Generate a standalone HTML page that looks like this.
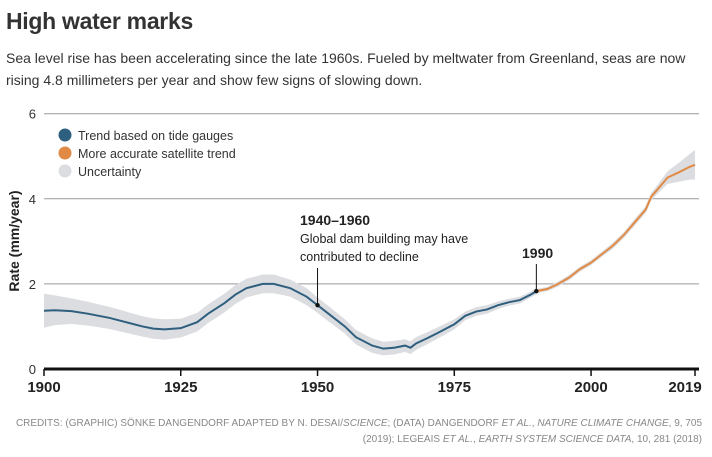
<!DOCTYPE html>
<html><head><meta charset="utf-8"><style>
body{margin:0;width:712px;height:457px;background:#fff;font-family:"Liberation Sans",sans-serif;overflow:hidden}
#title{position:absolute;left:6px;top:8px;font-size:23px;font-weight:bold;color:#333;letter-spacing:-0.3px}
#sub{position:absolute;left:6px;top:47px;width:700px;font-size:14px;line-height:22px;color:#333}
#cred{position:absolute;right:10px;top:416px;width:700px;text-align:right;font-size:10px;line-height:16px;color:#888}
svg{position:absolute;left:0;top:0}
</style></head><body>
<div id="title">High water marks</div>
<div id="sub">Sea level rise has been accelerating since the late 1960s. Fueled by meltwater from Greenland, seas are now rising 4.8 millimeters per year and show few signs of slowing down.</div>
<div id="cred">CREDITS: (GRAPHIC) SÖNKE DANGENDORF ADAPTED BY N. DESAI/<i>SCIENCE</i>; (DATA) DANGENDORF <i>ET AL.</i>, <i>NATURE CLIMATE CHANGE</i>, 9, 705<br>(2019); LEGEAIS <i>ET AL.</i>, <i>EARTH SYSTEM SCIENCE DATA</i>, 10, 281 (2018)</div>
<svg id="chart" width="712" height="457"></svg>
<script>
const gaugeYears=[1900,1902,1905,1908,1910,1912,1915,1918,1920,1922,1925,1928,1930,1933,1935,1937,1940,1942,1945,1948,1950,1952,1955,1957,1960,1962,1964,1966,1967,1968,1970,1972,1975,1977,1979,1981,1983,1985,1987,1989,1990];
const gaugeRates=[1.37,1.38,1.36,1.3,1.25,1.2,1.1,1.0,0.95,0.93,0.96,1.1,1.3,1.55,1.75,1.9,2.0,2.0,1.9,1.7,1.5,1.3,1.0,0.75,0.55,0.48,0.5,0.55,0.5,0.6,0.72,0.85,1.05,1.25,1.35,1.4,1.5,1.57,1.62,1.75,1.83];
const gaugeUnc=[0.4,0.35,0.3,0.28,0.27,0.26,0.25,0.24,0.24,0.24,0.22,0.22,0.22,0.22,0.22,0.22,0.22,0.22,0.2,0.2,0.18,0.18,0.17,0.17,0.17,0.16,0.16,0.15,0.15,0.15,0.14,0.13,0.12,0.1,0.1,0.1,0.09,0.08,0.08,0.07,0.07];
const satYears=[1990,1992,1994,1996,1998,2000,2002,2004,2006,2008,2010,2011,2012,2014,2016,2018,2019];
const satRates=[1.83,1.88,2.0,2.15,2.35,2.5,2.7,2.9,3.15,3.45,3.75,4.05,4.2,4.5,4.62,4.75,4.8];
const satUnc=[0.05,0.05,0.06,0.06,0.06,0.06,0.06,0.07,0.07,0.08,0.08,0.09,0.1,0.15,0.22,0.3,0.35];
const yTicks=[0,2,4,6];
const xTicks=[1900,1925,1950,1975,2000,2019];

const svg=document.getElementById('chart');
const NS='http://www.w3.org/2000/svg';
const x=yr=>44+(yr-1900)*(695-44)/119;
const y=v=>369-v*42.55;
function mk(tag,attrs,txt){const e=document.createElementNS(NS,tag);for(const k in attrs)e.setAttribute(k,attrs[k]);if(txt!==undefined)e.textContent=txt;svg.appendChild(e);return e;}

yTicks.forEach(t=>{
  if(t>0){const g=mk('line',{x1:44,x2:699,y1:y(t),y2:y(t),stroke:'#999','stroke-width':1});
  
  }
  const l=mk('text',{x:36,y:y(t)+5,'text-anchor':'end','font-size':13,fill:'#333','font-family':'Liberation Sans, sans-serif'},t);
  
  
});
function band(ys,rs,us,name){
  let d='';ys.forEach((yr,i)=>{d+=(i?'L':'M')+x(yr)+','+y(rs[i]+us[i]);});
  for(let i=ys.length-1;i>=0;i--)d+='L'+x(ys[i])+','+y(rs[i]-us[i]);
  const p=mk('path',{d:d+'Z',fill:'#dcdde0'});
  
  
}
function line(ys,rs,col,name){
  const d=ys.map((yr,i)=>(i?'L':'M')+x(yr)+','+y(rs[i])).join('');
  const p=mk('path',{d:d,fill:'none',stroke:col,'stroke-width':2});
  
  
}
band(gaugeYears,gaugeRates,gaugeUnc,'uncertainty-band-gauges');
band(satYears,satRates,satUnc,'uncertainty-band-satellite');
line(gaugeYears,gaugeRates,'#2f5f7f','tide-gauge-line');
line(satYears,satRates,'#e08a45','satellite-line');

const ax=mk('line',{x1:44,x2:699,y1:369,y2:369,stroke:'#111','stroke-width':3});


xTicks.forEach(t=>{
  const tk=mk('line',{x1:x(t),x2:x(t),y1:369,y2:376,stroke:'#111','stroke-width':1.5});
  
  
  const l=mk('text',{x:t===2019?x(t)-10:x(t),y:392,'text-anchor':'middle','font-size':15,'font-weight':'bold',fill:'#222','font-family':'Liberation Sans, sans-serif'},t);
  
  
});
const yt=mk('text',{transform:'translate(19,241) rotate(-90)','text-anchor':'middle','font-size':14,'font-weight':'bold',fill:'#222','font-family':'Liberation Sans, sans-serif'},'Rate (mm/year)');



[['#2f5f7f','Trend based on tide gauges'],['#e08a45','More accurate satellite trend'],['#dcdde0','Uncertainty']].forEach((e,i)=>{
  const c=mk('circle',{cx:65,cy:135+i*18,r:6.5,fill:e[0]});
  
  
  const t=mk('text',{x:78,y:140+i*18,'font-size':12.5,fill:'#333','font-family':'Liberation Sans, sans-serif'},e[1]);
  
  
});
// annotations
const a1=[['1940–1960',300,225,14,'bold'],['Global dam building may have',300,243,12.5,'normal'],['contributed to decline',300,261,12.5,'normal'],['1990',522,258,14,'bold']];
a1.forEach((a,i)=>{
  const t=mk('text',{x:a[1],y:a[2],'font-size':a[3],'font-weight':a[4],fill:'#222','font-family':'Liberation Sans, sans-serif'},a[0]);
  
  
});
[[1950,1.5,268],[1990,1.83,264]].forEach((p,i)=>{
  const l=mk('line',{x1:x(p[0]),x2:x(p[0]),y1:p[2],y2:y(p[1]),stroke:'#111','stroke-width':1});
  
  
  const d=mk('circle',{cx:x(p[0]),cy:y(p[1]),r:2.2,fill:'#111'});
  
  
});
</script>
</body></html>
